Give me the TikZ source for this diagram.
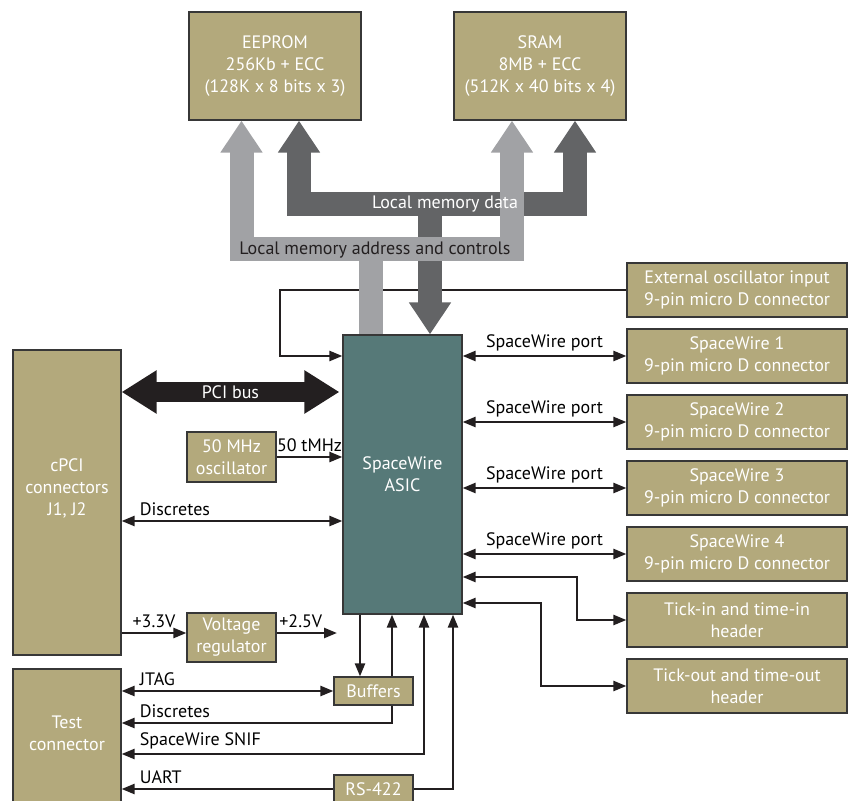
\documentclass[tikz,border=0pt]{standalone}
\usepackage{fontspec}
\setmainfont{PT Sans}
\usetikzlibrary{arrows.meta,positioning,calc}

\definecolor{khaki}{RGB}{179,169,124}
\definecolor{asicteal}{RGB}{86,121,120}
\definecolor{busdark}{RGB}{99,100,102}
\definecolor{buslight}{RGB}{161,162,165}
\definecolor{wire}{RGB}{35,31,32}
\definecolor{boxedge}{RGB}{55,55,55}

\begin{document}
\begin{tikzpicture}[
    x=0.5pt, y=-0.5pt,
    font=\fontsize{9}{11}\selectfont,
    node distance=33pt,
    box/.style={draw=boxedge, line width=0.6pt, fill=khaki, text=white, align=center, inner sep=1pt},
    conn/.style={box, minimum width=110pt, minimum height=27pt},
    sig/.style={draw=wire, line width=1.2pt, >={Triangle[length=6.5pt,width=5pt]}},
    lbl/.style={above right, pos=0, xshift=6.5pt, inner sep=2pt},
    dbus/.style={draw=busdark, line width=12pt, >={Triangle[length=16pt,width=20pt]}},
    lbus/.style={draw=buslight, line width=12pt, >={Triangle[length=16pt,width=20pt]}},
    pci/.style={draw=wire, line width=10pt, >={Triangle[length=17.5pt,width=20.5pt]}}
]
    \useasboundingbox (0,0) rectangle (855,801);
    \clip (0,0) rectangle (855,801);

    % Memories
    \node[box, minimum width=86pt, minimum height=54pt] (eeprom) at (275,66) {EEPROM\\256Kb + ECC\\(128K x 8 bits x 3)};
    \node[box, minimum width=86pt, minimum height=54pt] (sram) at (540,66) {SRAM\\8MB + ECC\\(512K x 40 bits x 4)};

    % ASIC and left side blocks
    \node[box, fill=asicteal, minimum width=59.5pt, minimum height=139.5pt] (asic) at (402.5,474.5) {SpaceWire\\ASIC};
    \node[box, minimum width=54pt, minimum height=152.5pt,
          label={[text=white, align=center, yshift=7.25pt]center:{cPCI\\connectors\\J1, J2}}] (cpci) at (67,502.5) {};
    \node[box, minimum width=54pt, minimum height=80.5pt,
          label={[text=white, align=center, yshift=8.25pt]center:{Test\\connector}}] (test) at (67,749.5) {};
    \node[box, minimum width=44.5pt, minimum height=25pt] (osc) at (231.5,457) {50 MHz\\oscillator};
    \node[box, minimum width=44.5pt, minimum height=24.5pt] (vreg) at (231.5,637.5) {Voltage\\regulator};
    \node[box, minimum width=39.5pt, minimum height=14pt] (buffers) at (373.5,691) {Buffers};
    \node[box, minimum width=39.5pt, minimum height=14pt] (rs422) at (373.5,789) {RS-422};

    % Connectors on the right
    \node[conn] (extosc) at (737,290) {External oscillator input\\9-pin micro D connector};
    \node[conn, below of=extosc] (sw1) {SpaceWire 1\\9-pin micro D connector};
    \node[conn, below of=sw1] (sw2) {SpaceWire 2\\9-pin micro D connector};
    \node[conn, below of=sw2] (sw3) {SpaceWire 3\\9-pin micro D connector};
    \node[conn, below of=sw3] (sw4) {SpaceWire 4\\9-pin micro D connector};
    \node[conn, below of=sw4] (tickin) {Tick-in and time-in\\header};
    \node[conn, below of=tickin] (tickout) {Tick-out and time-out\\header};

    % Bend points
    \coordinate (extx) at (280,0);
    \coordinate (pciy) at (0,392);
    \coordinate (discy) at (0,521);
    \coordinate (pwry) at (0,633);
    \coordinate (pwrend) at (337,633);
    \coordinate (tin) at (577,577);
    \coordinate (tout) at (541,603);
    \coordinate (bufdn) at (360,0);
    \coordinate (bufup) at (392,0);
    \coordinate (dscy) at (0,723);
    \coordinate (snif) at (424,754);
    \coordinate (uartx) at (453,0);
    \coordinate (dl) at (299,0);
    \coordinate (dm) at (430,204);
    \coordinate (dr) at (575,0);
    \coordinate (ll) at (241.5,0);
    \coordinate (lm) at (371,249.5);
    \coordinate (lr) at (512,0);

    % External oscillator (runs under the buses)
    \draw[sig,->] (extosc.west) -- (extosc.west -| extx) |- (asic.west |- sw1.west);

    % Local memory buses
    \draw[dbus,<->] (eeprom.south -| dl) |- (dm) -| (sram.south -| dr);
    \draw[dbus,->] (dm) -- (asic.north -| dm);
    \draw[lbus,<->] (eeprom.south -| ll) |- (lm) -| (sram.south -| lr);
    \draw[lbus] (lm) -- (asic.north -| lm);
    \node[text=white] (datalbl) at (445,204) {Local memory data};
    \node[text=wire] (addrlbl) at (375,250) {Local memory address and controls};

    % PCI bus
    \draw[pci,<->] (cpci.east |- pciy) -- node[text=white] {PCI bus} ($(asic.west |- pciy)+(-3,0)$);

    % SpaceWire ports and time codes
    \draw[sig,<->] (asic.east |- sw1.west) -- node[above, inner sep=2pt] {SpaceWire port} (sw1.west);
    \draw[sig,<->] (asic.east |- sw2.west) -- node[above, inner sep=2pt] {SpaceWire port} (sw2.west);
    \draw[sig,<->] (asic.east |- sw3.west) -- node[above, inner sep=2pt] {SpaceWire port} (sw3.west);
    \draw[sig,<->] (asic.east |- sw4.west) -- node[above, inner sep=2pt] {SpaceWire port} (sw4.west);
    \draw[sig,<->] (asic.east |- tin) -- (tin) |- (tickin.west);
    \draw[sig,<->] (asic.east |- tout) -- (tout) |- (tickout.west);

    % Clock, discretes and power
    \draw[sig,->] (osc.east) -- node[above, inner sep=2pt] {50 tMHz} (asic.west |- osc.east);
    \draw[sig,<->] (cpci.east |- discy) -- node[lbl] {Discretes} (asic.west |- discy);
    \draw[sig,->] (cpci.east |- pwry) -- node[above, inner sep=2pt] {+3.3V} (vreg.west |- pwry);
    \draw[sig,->] (vreg.east |- pwry) -- node[above, inner sep=2pt, pos=0.4] {+2.5V} (pwrend);

    % Test connector
    \draw[sig,->] (asic.south -| bufdn) -- (buffers.north -| bufdn);
    \draw[sig,->] (buffers.north -| bufup) -- (asic.south -| bufup);
    \draw[sig,<->] (test.east |- buffers.west) -- node[lbl] {JTAG} (buffers.west);
    \draw[sig,<-] (test.east |- dscy) -| node[lbl] {Discretes} (buffers.south -| bufup);
    \draw[sig,<->] (test.east |- snif) -| node[lbl] {SpaceWire SNIF} (asic.south -| snif);
    \draw[sig,<-] (test.east |- rs422.west) -- node[lbl] {UART} (rs422.west);
    \draw[sig,<-] (asic.south -| uartx) |- (rs422.east);

\end{tikzpicture}
\end{document}
